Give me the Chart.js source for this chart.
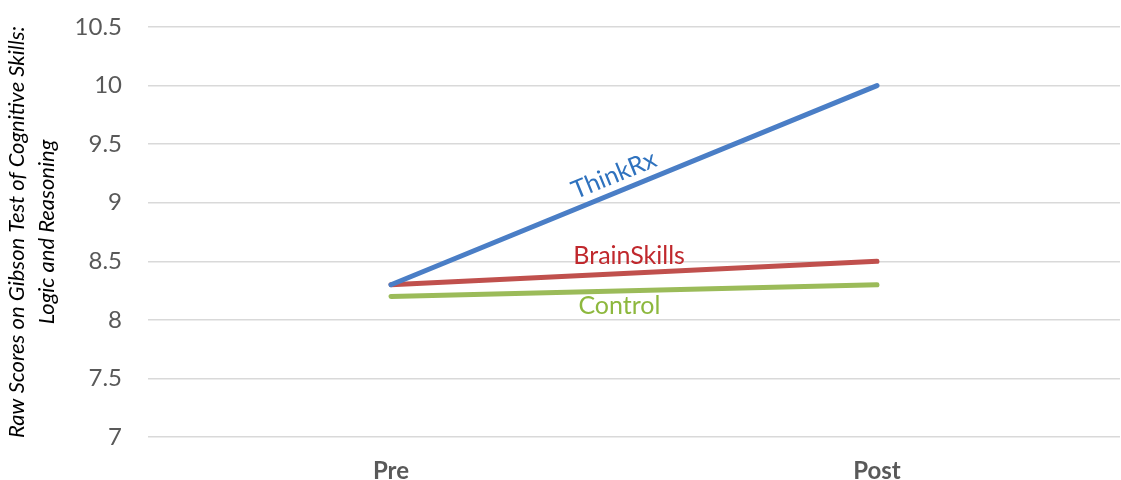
<!DOCTYPE html>
<html>
<head>
<meta charset="utf-8">
<style>
  html, body { margin: 0; padding: 0; background: #fff; }
  #wrap { width: 1121px; height: 480px; }
</style>
<script src="https://cdn.jsdelivr.net/npm/chart.js@4/dist/chart.umd.min.js"></script>
</head>
<body>
<div id="wrap"><canvas id="chart"></canvas></div>
<script>
// chart values
const categories = ['Pre', 'Post'];
const thinkRx = [8.3, 10.0];
const brainSkills = [8.3, 8.5];
const control = [8.2, 8.3];
const yTicks = [7, 7.5, 8, 8.5, 9, 9.5, 10, 10.5];

const FONT = 'Lato, "Open Sans", sans-serif';

// draws the series names next to each line (rotated along the line for ThinkRx)
const lineLabels = {
  id: 'lineLabels',
  afterDatasetsDraw(chart) {
    const ctx = chart.ctx;
    const x = chart.scales.x, y = chart.scales.y;
    chart.data.datasets.forEach((ds) => {
      const lab = ds.lineLabel;
      if (!lab) return;
      const x0 = x.getPixelForValue(0), x1 = x.getPixelForValue(1);
      const y0 = y.getPixelForValue(ds.data[0]), y1 = y.getPixelForValue(ds.data[1]);
      const px = x0 + (x1 - x0) * lab.t;
      const py = y0 + (y1 - y0) * lab.t;
      const ang = lab.rotate ? Math.atan2(y1 - y0, x1 - x0) : 0;
      ctx.save();
      ctx.translate(px, py);
      ctx.rotate(ang);
      ctx.font = '25px ' + FONT;
      ctx.fillStyle = lab.color;
      ctx.textAlign = 'center';
      ctx.textBaseline = 'middle';
      ctx.fillText(ds.label, 0, lab.dy);
      ctx.restore();
    });
  }
};

new Chart(document.getElementById('chart'), {
  type: 'line',
  data: {
    labels: categories,
    datasets: [
      { label: 'ThinkRx', data: thinkRx, borderColor: '#4A7EC6', lineLabel: { t: 0.472, dy: -17, rotate: true, color: '#2F72BE' } },
      { label: 'BrainSkills', data: brainSkills, borderColor: '#C0504D', lineLabel: { t: 0.49, dy: -17, rotate: false, color: '#C0282D' } },
      { label: 'Control', data: control, borderColor: '#9BBB59', lineLabel: { t: 0.47, dy: 15, rotate: false, color: '#8DB83E' } }
    ]
  },
  options: {
    responsive: true,
    maintainAspectRatio: false,
    animation: false,
    layout: { padding: { top: 27, right: 1, bottom: 0, left: 0 } },
    elements: {
      line: { borderWidth: 5, tension: 0, borderCapStyle: 'round' },
      point: { radius: 0, hoverRadius: 0 }
    },
    plugins: {
      legend: { display: false },
      tooltip: { enabled: false }
    },
    scales: {
      x: {
        offset: true,
        grid: { display: false },
        border: { display: false },
        ticks: { color: '#595959', font: { family: FONT, size: 24, weight: 'bold' }, padding: 12 },
        afterFit(s) { s.height = 43; s.paddingLeft = 0; s.paddingRight = 0; }
      },
      y: {
        min: 7,
        max: 10.5,
        afterBuildTicks(s) { s.ticks = yTicks.map(v => ({ value: v })); },
        grid: { color: '#D9D9D9', lineWidth: 1.5, drawTicks: false },
        border: { display: false },
        ticks: { color: '#595959', font: { family: FONT, size: 24 }, padding: 26, callback: (v) => String(v) },
        title: {
          display: true,
          text: ['Raw Scores on Gibson Test of Cognitive Skills:', 'Logic and Reasoning'],
          color: '#000',
          font: { family: FONT, size: 22, style: 'italic', lineHeight: 1.36 },
          padding: { top: 2, bottom: 0 }
        },
        afterFit(s) { s.width = 148; s.paddingTop = 0; s.paddingBottom = 0; }
      }
    }
  },
  plugins: [lineLabels]
});
</script>
</body>
</html>
